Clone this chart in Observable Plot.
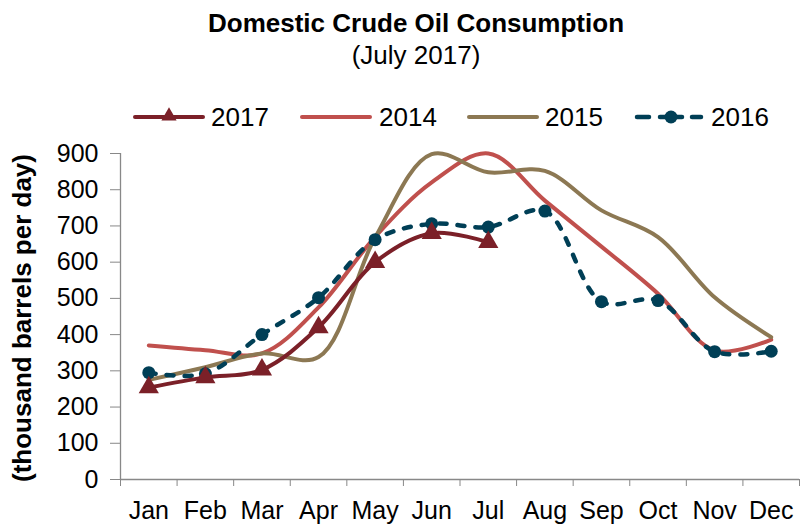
<!DOCTYPE html>
<html>
<head>
<meta charset="utf-8">
<script src="https://cdn.jsdelivr.net/npm/d3@7"></script>
<script src="https://cdn.jsdelivr.net/npm/@observablehq/plot@0.6"></script>
<style>
  body { margin: 0; background: #fff; font-family: "Liberation Sans", Arial, sans-serif; }
  #wrap { width: 801px; height: 528px; position: relative; overflow: hidden; }
  #head { height: 140px; position: relative; }
  .title { position: absolute; top: 8px; left: 0; width: 832px; text-align: center; font-weight: bold; font-size: 26px; line-height: normal; color: #000; white-space: nowrap; }
  .subtitle { position: absolute; top: 40px; left: 0; width: 832px; text-align: center; font-size: 26px; line-height: normal; color: #000; white-space: nowrap; }
  .legend { position: absolute; top: 100px; left: 0; }
  .item { position: absolute; top: 0; height: 34px; }
  .item svg { position: absolute; top: 0; left: 0; }
  .item span { position: absolute; top: 2px; font-size: 26px; line-height: normal; color: #000; }
</style>
</head>
<body>
<div id="wrap">
  <div id="head">
    <div class="title">Domestic Crude Oil Consumption</div>
    <div class="subtitle">(July 2017)</div>
    <div class="legend" id="legend"></div>
  </div>
  <div id="chart"></div>
</div>
<script>
const months = ["Jan","Feb","Mar","Apr","May","Jun","Jul","Aug","Sep","Oct","Nov","Dec"];
const yTicks = [0,100,200,300,400,500,600,700,800,900];
const seriesNames = ["2017","2014","2015","2016"];
const colors = ["#7B2028","#C0504D","#8C7853","#003F56"];
const v2017 = [254, 282, 303, 420, 600, 680, 655];
const v2014 = [370, 357, 348, 475, 670, 820, 900, 770, 643, 513, 356, 386];
const v2015 = [275, 310, 348, 338, 668, 898, 848, 852, 743, 669, 503, 393];
const v2016 = [295, 292, 400, 502, 662, 706, 697, 741, 491, 494, 353, 354];

const valuesBySeries = {"2017": v2017, "2014": v2014, "2015": v2015, "2016": v2016};
const rows = [];
for (const s of seriesNames) {
  valuesBySeries[s].forEach((v, i) => rows.push({series: s, month: i + 1, value: v}));
}
const colorOf = s => colors[seriesNames.indexOf(s)];
const boundaries = d3.range(0.5, 13, 1);

const chart = Plot.plot({
  width: 801,
  height: 388,
  marginLeft: 120,
  marginRight: 2,
  marginTop: 13,
  marginBottom: 49,
  style: {fontFamily: "Liberation Sans, Arial, sans-serif", fontSize: "25px", color: "#000", background: "#fff", overflow: "visible"},
  x: {domain: [0.5, 12.5]},
  y: {domain: [0, 900]},
  marks: [
    Plot.axisY({ticks: yTicks, tickSize: 10, tickPadding: 12, stroke: "#888", label: null, fontSize: 25, fill: "#000"}),
    Plot.axisX({ticks: boundaries, tickSize: 7, tickFormat: () => "", stroke: "#888", label: null}),
    Plot.axisX({ticks: d3.range(1, 13), tickSize: 0, tickPadding: 22, tickFormat: d => months[d - 1], label: null, fontSize: 25, fill: "#000"}),
    Plot.ruleX([0.5], {stroke: "#888", strokeWidth: 1.3}),
    Plot.ruleY([0], {stroke: "#888", strokeWidth: 1.3}),
    Plot.line(rows.filter(d => d.series === "2014"), {x: "month", y: "value", stroke: colorOf("2014"), strokeWidth: 4, curve: "catmull-rom"}),
    Plot.line(rows.filter(d => d.series === "2015"), {x: "month", y: "value", stroke: colorOf("2015"), strokeWidth: 4, curve: "catmull-rom"}),
    Plot.line(rows.filter(d => d.series === "2016"), {x: "month", y: "value", stroke: colorOf("2016"), strokeWidth: 4.5, strokeDasharray: "7,11", strokeLinecap: "round", curve: "catmull-rom"}),
    Plot.dot(rows.filter(d => d.series === "2016"), {x: "month", y: "value", fill: colorOf("2016"), r: 6.5, stroke: "none"}),
    Plot.line(rows.filter(d => d.series === "2017"), {x: "month", y: "value", stroke: colorOf("2017"), strokeWidth: 4, curve: "catmull-rom"}),
    Plot.dot(rows.filter(d => d.series === "2017"), {x: "month", y: "value", fill: colorOf("2017"), symbol: "triangle", r: 7.5, stroke: "none"}),
    Plot.text(["(thousand barrels per day)"], {frameAnchor: "left", textAnchor: "middle", dx: -98, dy: 1.5, rotate: -90, fontWeight: "bold", fontSize: 26, fill: "#000"})
  ]
});
document.getElementById("chart").appendChild(chart);

// legend
const legendPos = [[133, 211], [300, 379], [467, 545], [633, 711]];
const legend = document.getElementById("legend");
seriesNames.forEach((s, i) => {
  const [sx, tx] = legendPos[i];
  const item = document.createElement("div");
  item.className = "item";
  item.style.left = sx + "px";
  const c = colorOf(s);
  let inner = "";
  if (s === "2016") {
    inner = `<line x1="4" y1="17" x2="16" y2="17" stroke="${c}" stroke-width="4.5" stroke-linecap="round"/>` +
            `<line x1="27" y1="17" x2="49" y2="17" stroke="${c}" stroke-width="4.5" stroke-linecap="round"/>` +
            `<line x1="59" y1="17" x2="68" y2="17" stroke="${c}" stroke-width="4.5" stroke-linecap="round"/>` +
            `<circle cx="38" cy="17" r="6.5" fill="${c}"/>`;
  } else {
    inner = `<line x1="2" y1="17" x2="70" y2="17" stroke="${c}" stroke-width="4" stroke-linecap="round"/>`;
    if (s === "2017") inner += `<path d="${d3.symbol(d3.symbolTriangle, 100)()}" transform="translate(36,16)" fill="${c}"/>`;
  }
  item.innerHTML = `<svg width="75" height="34">${inner}</svg><span style="left:${tx - sx}px">${s}</span>`;
  legend.appendChild(item);
});
</script>
</body>
</html>
